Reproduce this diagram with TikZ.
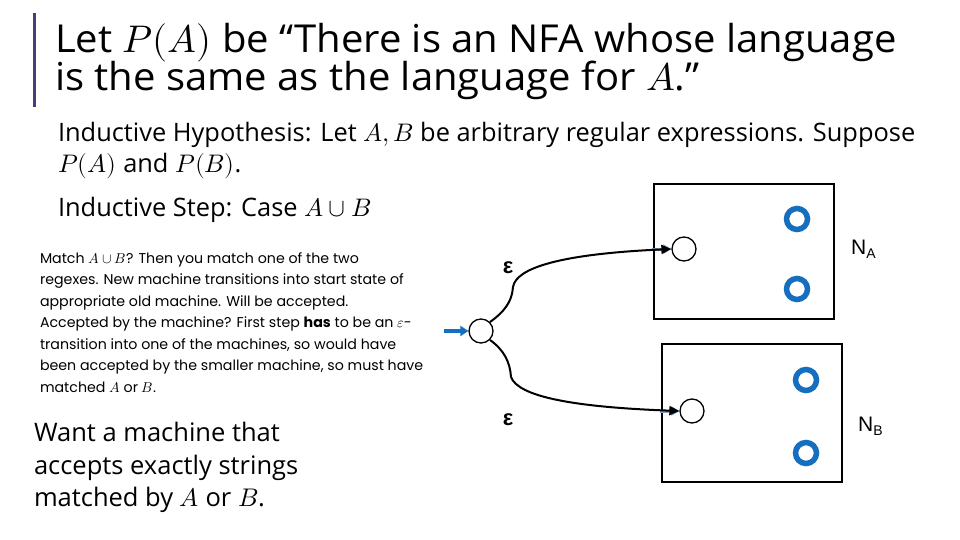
\documentclass[tikz,border=0pt]{standalone}
\usepackage{fontspec}
\usepackage{unicode-math}
\setmathfont{Latin Modern Math}
\setmainfont{Open Sans}
\newfontfamily\titlefont[FakeStretch=1.04]{Open Sans}
\newfontfamily\gothic{Poppins}
\newfontfamily\arialf{Liberation Sans}
\usetikzlibrary{arrows.meta}
\definecolor{barcol}{RGB}{75,60,118}
\definecolor{acc}{RGB}{22,110,190}
\definecolor{faint}{RGB}{130,160,190}
\tikzset{
  txt/.style={anchor=base west, inner sep=0pt, outer sep=0pt},
  titlef/.style={txt, font=\titlefont\fontsize{38.5}{44}\selectfont, text height=27pt, text depth=7pt},
  bodyf/.style={txt, font=\fontsize{25.4}{30}\selectfont, text height=19pt, text depth=6pt},
  smallf/.style={txt, font=\gothic\fontsize{14.2}{16}\selectfont, text height=11pt, text depth=3.5pt},
  wantf/.style={txt, font=\fontsize{25.5}{32}\selectfont, text height=20pt, text depth=6pt},
  state/.style={circle, draw, line width=1.3pt, minimum size=24pt, inner sep=0pt},
  accst/.style={circle, draw=acc, line width=5.5pt, minimum size=21pt, inner sep=0pt},
  machine/.style={draw, line width=1.5pt, inner sep=0pt},
  edge/.style={line width=2pt, -{Triangle[length=10pt,width=9pt]}},
  lab/.style={font=\arialf\bfseries\fontsize{22}{24}\selectfont, inner sep=0pt},
  nlab/.style={font=\arialf\fontsize{21}{24}\selectfont, anchor=base west, inner sep=0pt}
}
\begin{document}
\begin{tikzpicture}[x=1pt,y=-1pt]
\useasboundingbox[fill=white] (0,0) rectangle (960,540);
% left bar
\draw[barcol, line width=3pt] (34,13) coordinate (bt) -- (34,107) coordinate (bb);
% title
\node[titlef] (t1) at (55,53) {Let $P(A)$ be “There is an NFA whose language};
\node[titlef] (t2) at (55,91) {is the same as the language for $A$.”};
% body
\node[bodyf] (h1) at (58,142) {Inductive Hypothesis: Let $A,B$ be arbitrary regular expressions. Suppose};
\node[bodyf] (h2) at (58,172) {$P(A)$ and $P(B)$.};
\node[bodyf] (h3) at (58,216) {Inductive Step: Case $A\cup B$};
% small paragraph
\node[smallf] (p1) at (40,263) {Match $A\cup B$? Then you match one of the two};
\node[smallf] (p2) at (40,284.5) {regexes. New machine transitions into start state of};
\node[smallf] (p3) at (40,306) {appropriate old machine. Will be accepted.};
\node[smallf] (p4) at (40,327.5) {Accepted by the machine? First step \textbf{has} to be an $\varepsilon$-};
\node[smallf] (p5) at (40,349) {transition into one of the machines, so would have};
\node[smallf] (p6) at (40,370.5) {been accepted by the smaller machine, so must have};
\node[smallf] (p7) at (40,392) {matched $A$ or $B$.};
% want
\node[wantf] (w1) at (34,441) {Want a machine that};
\node[wantf] (w2) at (34,474) {accepts exactly strings};
\node[wantf] (w3) at (34,506) {matched by $A$ or $B$.};
% machines
\node[machine, minimum width=180pt, minimum height=135pt] (NA) at (744,251.5) {};
\node[machine, minimum width=180pt, minimum height=138pt] (NB) at (752,413) {};
\node[state] (s0) at (481,331) {};
\node[state] (a0) at (684,249) {};
\node[state] (b0) at (692,411) {};
\node[accst] (a1) at (797,219) {};
\node[accst] (a2) at (797,289) {};
\node[accst] (b1) at (806,380) {};
\node[accst] (b2) at (806,453) {};
\node[nlab] (na) at (851,254) {N\raisebox{-4pt}{\fontsize{14}{15}\selectfont A}};
\node[nlab] (nb) at (858,431) {N\raisebox{-4pt}{\fontsize{14}{15}\selectfont B}};
% start arrow
\coordinate (st) at (444,331);
\draw[acc, line width=4pt, -{Triangle[length=8pt,width=10pt]}] (st) -- (s0.west);
% faint old start arrows
\coordinate (fa) at (652,249);
\coordinate (fb) at (660,411);
\draw[faint, line width=3pt, -{Triangle[length=8pt,width=9pt]}] (fa) -- (a0.west);
\draw[faint, line width=3pt, -{Triangle[length=8pt,width=9pt]}] (fb) -- (b0.west);
% epsilon edges
\draw[edge] (s0.north east) .. controls (504,312) and (512,302) .. (513,287)
  .. controls (516,268) and (560,254) .. (a0.west);
\draw[edge] (s0.south east) .. controls (504,350) and (510,362) .. (511,377)
  .. controls (518,396) and (570,407) .. (b0.west);
\node[lab] (e1) at (508,268) {ε};
\node[lab] (e2) at (508,420) {ε};
\end{tikzpicture}
\end{document}
